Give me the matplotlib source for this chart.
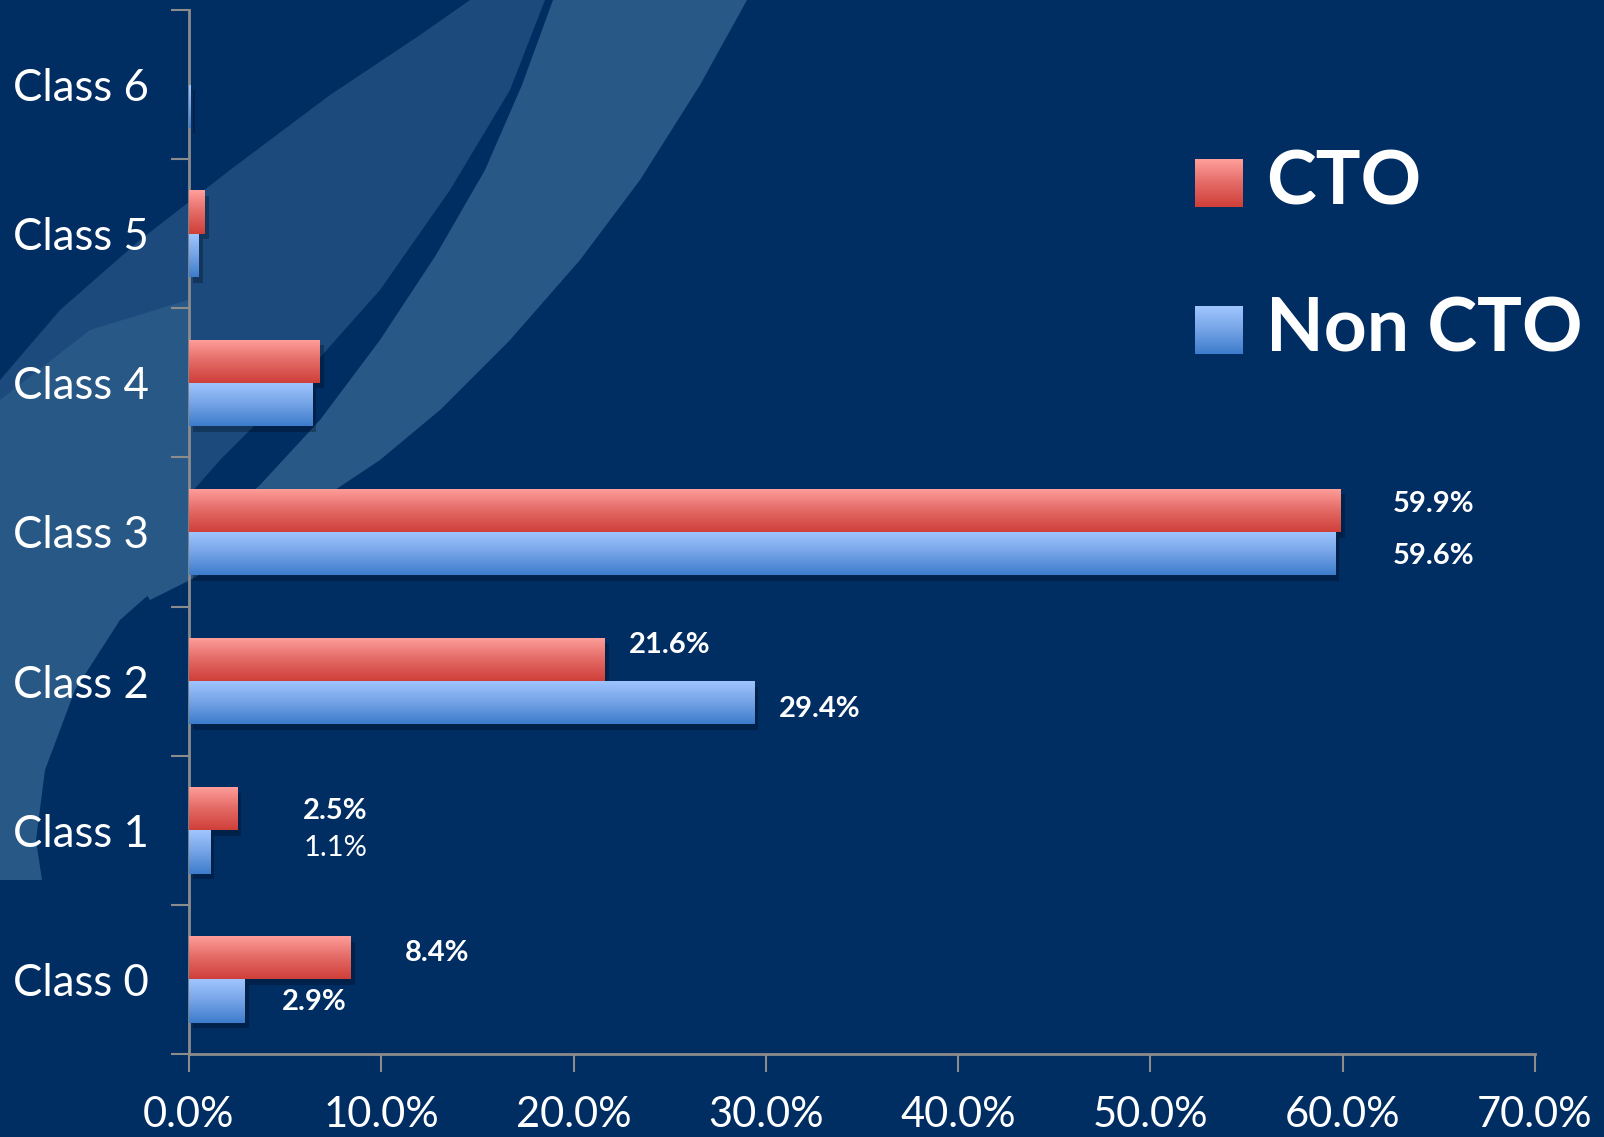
import numpy as np
import matplotlib
matplotlib.use("Agg")
import matplotlib.pyplot as plt
import matplotlib.patheffects as pe
from matplotlib.colors import LinearSegmentedColormap
from matplotlib.patches import Polygon, Rectangle

# ---------------- data ----------------
categories = ["Class 0", "Class 1", "Class 2", "Class 3", "Class 4", "Class 5", "Class 6"]
cto = [8.4, 2.5, 21.6, 59.9, 6.8, 0.8, 0.0]
non_cto = [2.9, 1.1, 29.4, 59.6, 6.4, 0.5, 0.1]
cto_labels = ["8.4%", "2.5%", "21.6%", "59.9%", None, None, None]
non_cto_labels = ["2.9%", "1.1%", "29.4%", "59.6%", None, None, None]
series_names = ["CTO", "Non CTO"]
xticks = [0, 10, 20, 30, 40, 50, 60, 70]
xtick_labels = ["0.0%", "10.0%", "20.0%", "30.0%", "40.0%", "50.0%", "60.0%", "70.0%"]

# ---------------- style / positions ----------------
cto_label_x = [12.9, 7.6, 25.0, 64.7]
cto_label_dy = [0.18, 0.13, 0.24, 0.19]
non_label_x = [6.5, 7.6, 32.8, 64.7]
non_label_dy = [-0.15, -0.12, -0.19, -0.16]
non_label_bold = [True, False, True, True]

FONT = ["Lato", "DejaVu Sans"]
plt.rcParams["font.family"] = FONT

BG = "#002D62"
SWOOSH_A = "#285986"
SWOOSH_B = "#1C4A7C"
AXIS_C = "#8C8C8C"
red_cmap = LinearSegmentedColormap.from_list("r", ["#CF3F39", "#E46A66", "#FFA09C"])
blue_cmap = LinearSegmentedColormap.from_list("b", ["#3C7CCC", "#74A3E6", "#A0C6FF"])

W, H = 1604, 1137
fig = plt.figure(figsize=(W / 100, H / 100), dpi=100)
fig.patch.set_facecolor(BG)

# ---------------- decorative brush strokes (background) ----------------
bg = fig.add_axes([0, 0, 1, 1], zorder=0)
bg.set_xlim(0, W)
bg.set_ylim(H, 0)
bg.axis("off")
bg.set_facecolor(BG)
strokeB = [(0, 380), (60, 310), (140, 240), (230, 170), (330, 95), (420, 35), (470, 0),
           (545, 0), (510, 90), (450, 190), (380, 290), (300, 380), (220, 460),
           (150, 540), (100, 610), (60, 690), (38, 770), (30, 840), (36, 880), (0, 880)]
lowerA = [(0, 400), (90, 330), (188, 300), (188, 560), (120, 620), (75, 690), (45, 770),
          (36, 840), (42, 880), (0, 880)]
strokeA = [(553, 0), (747, 0), (700, 85), (640, 180), (580, 260), (510, 340), (440, 410),
           (380, 460), (320, 500), (250, 545), (190, 580), (150, 600), (140, 585), (200, 540),
           (260, 485), (320, 420), (380, 340), (436, 255), (485, 170), (522, 85)]
bg.add_patch(Polygon(strokeB, closed=True, facecolor=SWOOSH_B, edgecolor="none"))
bg.add_patch(Polygon(lowerA, closed=True, facecolor=SWOOSH_A, edgecolor="none"))
bg.add_patch(Polygon(strokeA, closed=True, facecolor=SWOOSH_A, edgecolor="none"))

# ---------------- main axes ----------------
ax = fig.add_axes([189 / W, 1 - 1054 / H, (1535 - 189) / W, (1054 - 10) / H], zorder=2)
ax.set_facecolor("none")

y = np.arange(len(categories))
h = 0.29
bars_cto = ax.barh(y + h / 2, cto, height=h, color="#D9534F", zorder=3)
bars_non = ax.barh(y - h / 2, non_cto, height=h, color="#5A8FDB", zorder=3)

grad = np.linspace(0, 1, 256).reshape(-1, 1)
shadow = [pe.SimplePatchShadow(offset=(3, -4), shadow_rgbFace="#000814", alpha=0.3), pe.Normal()]
for bars, cmap in ((bars_cto, red_cmap), (bars_non, blue_cmap)):
    for p in bars:
        p.set_path_effects(shadow)
        bb = p.get_bbox()
        if bb.x1 - bb.x0 <= 0:
            continue
        im = ax.imshow(grad, extent=[bb.x0, bb.x1, bb.y0, bb.y1], origin="lower",
                       aspect="auto", cmap=cmap, zorder=4, interpolation="bilinear")
        im.set_clip_path(p)

ax.set_xlim(0, 70)
ax.set_ylim(-0.5, 6.5)

for s in ("top", "right"):
    ax.spines[s].set_visible(False)
for s in ("left", "bottom"):
    ax.spines[s].set_color(AXIS_C)
    ax.spines[s].set_linewidth(2)

ax.set_xticks(xticks)
ax.set_xticklabels(xtick_labels)
ax.tick_params(axis="x", direction="out", length=13, width=1.5, color=AXIS_C,
               labelcolor="white", labelsize=30, pad=17)

ax.set_yticks(np.arange(-0.5, 7.0, 1.0))
ax.set_yticklabels([])
ax.set_yticks(y, minor=True)
ax.set_yticklabels(categories, minor=True)
ax.tick_params(axis="y", which="major", direction="out", length=13, width=1.5, color=AXIS_C)
ax.tick_params(axis="y", which="minor", length=0, labelcolor="white", labelsize=31.5, pad=126.5)
for lab in ax.get_yticklabels(minor=True):
    lab.set_horizontalalignment("left")

for i, lab in enumerate(cto_labels):
    if lab:
        ax.text(cto_label_x[i], y[i] + cto_label_dy[i], lab, color="white", fontsize=21,
                fontweight="bold", ha="center", va="center", zorder=5)
for i, lab in enumerate(non_cto_labels):
    if lab:
        ax.text(non_label_x[i], y[i] + non_label_dy[i], lab, color="white", fontsize=21,
                fontweight="bold" if non_label_bold[i] else "normal",
                ha="center", va="center", zorder=5)

# ---------------- legend ----------------
lg = fig.add_axes([0, 0, 1, 1], zorder=3)
lg.set_xlim(0, W)
lg.set_ylim(H, 0)
lg.axis("off")
lg.set_facecolor("none")
for (top, cmap, name) in ((159, red_cmap, series_names[0]), (306, blue_cmap, series_names[1])):
    r = Rectangle((1195, top), 48, 48, facecolor="none", edgecolor="none")
    lg.add_patch(r)
    im = lg.imshow(grad, extent=[1195, 1243, top + 48, top], origin="lower",
                   aspect="auto", cmap=cmap, interpolation="bilinear")
    im.set_clip_path(r)
    lg.text(1266, top + 24, name, color="white", fontsize=54, fontweight="bold",
            ha="left", va="center")
lg.set_xlim(0, W)
lg.set_ylim(H, 0)

fig.savefig("out.png", dpi=100, facecolor=BG)
